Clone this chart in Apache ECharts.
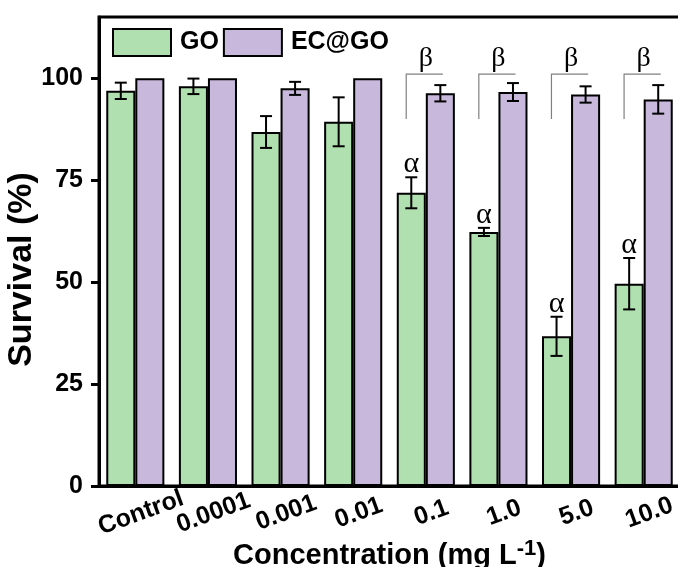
<!DOCTYPE html>
<html>
<head>
<meta charset="utf-8">
<script src="https://cdn.jsdelivr.net/npm/echarts@6/dist/echarts.min.js"></script>
<style>
  html, body { margin: 0; padding: 0; background: #fff; }
  #chart { width: 678px; height: 567px; }
</style>
</head>
<body>
<div id="chart"></div>
<script>
// data
const categories = ['Control', '0.0001', '0.001', '0.01', '0.1', '1.0', '5.0', '10.0'];
const goMean = [96.9, 98.0, 86.8, 89.3, 71.9, 62.3, 36.7, 49.6];
const goErr = [2.0, 1.9, 3.9, 6.0, 3.8, 1.0, 4.8, 6.3];
const ecMean = [100, 100, 97.5, 100, 96.3, 96.6, 96.0, 94.8];
const ecErr = [0, 0, 1.6, 0, 2.0, 2.2, 2.0, 3.5];
const yTicks = [0, 25, 50, 75, 100];
// groups marked significant (alpha on GO, beta on EC@GO)
const alphaIdx = [4, 5, 6, 7];
const betaIdx = [4, 5, 6, 7];

const green = '#b0dfb0';
const purple = '#c8b9dc';
const bracketTop = 101, bracketBottom = 90;

let chart = echarts.init(document.getElementById('chart'));

function errData(mean, err) {
    let out = [];
    mean.forEach((m, i) => {
        if (err[i] > 0) out.push([i, m - err[i], m + err[i]]);
    });
    return out;
}

function errRender(offset) {
    return function (params, api) {
        const band = api.size([1, 0])[0];
        const lo = api.coord([api.value(0), api.value(1)]);
        const hi = api.coord([api.value(0), api.value(2)]);
        const x = lo[0] + offset * band;
        const cap = 6;
        const st = { stroke: '#000', lineWidth: 2 };
        return {
            type: 'group',
            children: [
                { type: 'line', shape: { x1: x, y1: lo[1], x2: x, y2: hi[1] }, style: st },
                { type: 'line', shape: { x1: x - cap, y1: lo[1], x2: x + cap, y2: lo[1] }, style: st },
                { type: 'line', shape: { x1: x - cap, y1: hi[1], x2: x + cap, y2: hi[1] }, style: st }
            ]
        };
    };
}

const alphaData = alphaIdx.map(i => [i, goMean[i] + goErr[i]]);
const betaData = betaIdx.map(i => [i, bracketTop, bracketBottom]);

let option = {
    animation: false,
    grid: {
        left: 99,
        right: -2,
        top: 17,
        bottom: 81,
        outerBoundsMode: 'none',
        containLabel: false,
        show: true,
        borderColor: '#000',
        borderWidth: 3,
        backgroundColor: 'transparent'
    },
    legend: {
        data: ['GO', 'EC@GO'],
        left: 112,
        top: 28,
        padding: 0,
        icon: 'rect',
        itemWidth: 58,
        itemHeight: 27,
        itemGap: 4,
        textStyle: {
            fontFamily: 'Liberation Sans, Arial',
            fontWeight: 'bold',
            fontSize: 25,
            color: '#000',
            padding: [0, 0, 0, 4]
        }
    },
    xAxis: {
        type: 'category',
        data: categories,
        name: 'Concentration (mg L{sup|-1})',
        nameLocation: 'middle',
        nameGap: 52,
        nameMoveOverlap: false,
        nameTextStyle: {
            fontFamily: 'Liberation Sans, Arial',
            fontWeight: 'bold',
            fontSize: 29,
            color: '#000',
            rich: {
                sup: {
                    fontFamily: 'Liberation Sans, Arial',
                    fontWeight: 'bold',
                    fontSize: 22,
                    color: '#000',
                    verticalAlign: 'top',
                    padding: [0, 0, 14, 0]
                }
            }
        },
        axisLine: { lineStyle: { color: '#000', width: 3 } },
        axisTick: { alignWithLabel: true, length: 8, lineStyle: { color: '#000', width: 3 } },
        axisLabel: {
            rotate: 20,
            align: 'center',
            verticalAlign: 'middle',
            margin: 29,
            padding: [0, 0, 0, 12],
            fontFamily: 'Liberation Sans, Arial',
            fontWeight: 'bold',
            fontSize: 25,
            color: '#000',
            interval: 0
        }
    },
    yAxis: {
        type: 'value',
        min: 0,
        max: 115,
        interval: 25,
        name: 'Survival (%)',
        nameLocation: 'middle',
        nameGap: 60,
        nameMoveOverlap: false,
        nameTextStyle: {
            fontFamily: 'Liberation Sans, Arial',
            fontWeight: 'bold',
            fontSize: 34,
            color: '#000',
            padding: [0, 36, 0, 0]
        },
        splitLine: { show: false },
        axisLine: { show: true, lineStyle: { color: '#000', width: 3 } },
        axisTick: { show: true, length: 8, customValues: yTicks, lineStyle: { color: '#000', width: 3 } },
        axisLabel: {
            customValues: yTicks,
            margin: 16,
            fontFamily: 'Liberation Sans, Arial',
            fontWeight: 'bold',
            fontSize: 25,
            color: '#000'
        }
    },
    series: [
        {
            name: 'GO',
            type: 'bar',
            data: goMean,
            barGap: '0%',
            barCategoryGap: '20%',
            itemStyle: { color: green, borderColor: '#000', borderWidth: 2 }
        },
        {
            name: 'EC@GO',
            type: 'bar',
            data: ecMean,
            itemStyle: { color: purple, borderColor: '#000', borderWidth: 2 }
        },
        {
            type: 'custom',
            z: 5,
            data: errData(goMean, goErr),
            renderItem: errRender(-0.2)
        },
        {
            type: 'custom',
            z: 5,
            data: errData(ecMean, ecErr),
            renderItem: errRender(0.2)
        },
        {
            // alpha marks above GO error bars
            type: 'custom',
            z: 6,
            data: alphaData,
            renderItem: function (params, api) {
                const band = api.size([1, 0])[0];
                const p = api.coord([api.value(0), api.value(1)]);
                return {
                    type: 'text',
                    style: {
                        text: 'α',
                        x: p[0] - 0.2 * band,
                        y: p[1] - 13,
                        align: 'center',
                        verticalAlign: 'middle',
                        fontFamily: 'Liberation Serif, Times New Roman',
                        fontSize: 30,
                        fill: '#000'
                    }
                };
            }
        },
        {
            // beta brackets over EC@GO
            type: 'custom',
            z: 6,
            data: betaData,
            renderItem: function (params, api) {
                const band = api.size([1, 0])[0];
                const top = api.coord([api.value(0), api.value(1)]);
                const bot = api.coord([api.value(0), api.value(2)]);
                const cx = top[0];
                const x1 = cx - 0.27 * band;
                const x2 = cx + 0.235 * band;
                const st = { stroke: '#808080', lineWidth: 1.2, fill: null };
                return {
                    type: 'group',
                    children: [
                        { type: 'polyline', shape: { points: [[x1, bot[1]], [x1, top[1]], [x2, top[1]]] }, style: st },
                        {
                            type: 'text',
                            style: {
                                text: 'β',
                                x: cx,
                                y: top[1] - 15,
                                align: 'center',
                                verticalAlign: 'middle',
                                fontFamily: 'Liberation Serif, Times New Roman',
                                fontSize: 28,
                                fill: '#000'
                            }
                        }
                    ]
                };
            }
        }
    ]
};

chart.setOption(option);
window.addEventListener('resize', () => { chart.resize() });
</script>
</body>
</html>
